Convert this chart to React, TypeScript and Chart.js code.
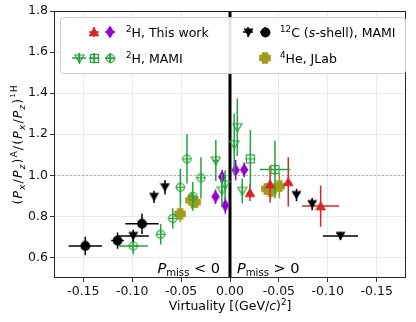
import React, { useEffect, useRef } from 'react';
import { Chart, registerables } from 'chart.js';
Chart.register(...registerables);

// ---- Data (virtuality: negative = Pmiss<0 side, positive = Pmiss>0 side) ----
const c12CircX = [-0.148, -0.115, -0.090];
const c12CircY = [0.656, 0.682, 0.764];
const c12CircXerr = [0.017, 0.0065, 0.017];
const c12CircYerr = [0.045, 0.04, 0.05];

const c12TriX = [-0.099, -0.0777, -0.0665, 0.068, 0.084, 0.113];
const c12TriY = [0.705, 0.895, 0.942, 0.904, 0.86, 0.705];
const c12TriXerr = [0.016, 0, 0, 0, 0, 0.018];
const c12TriYerr = [0.03, 0.03, 0.035, 0.03, 0.03, 0.02];

const greenCircX = [-0.099, -0.0709, -0.0586, -0.0508, -0.0440, -0.0380, -0.0297];
const greenCircY = [0.656, 0.713, 0.79, 0.942, 1.08, 0.898, 0.988];
const greenCircXerr = [0.015, 0, 0, 0, 0, 0, 0];
const greenCircYerr = [0.04, 0.05, 0.05, 0.09, 0.12, 0.07, 0.1];

const greenTriX = [-0.0145, -0.0083, -0.005, 0.0043, 0.0075, 0.0125];
const greenTriY = [1.072, 0.926, 0.955, 1.15, 1.234, 0.924];
const greenTriXerr = [0.003, 0, 0, 0, 0, 0];
const greenTriYerr = [0.1, 0.08, 0.07, 0.15, 0.14, 0.06];

const greenSqX = [0.0208, 0.046];
const greenSqY = [1.08, 1.028];
const greenSqXerr = [0, 0.0157];
const greenSqYerr = [0.14, 0.14];

const redX = [0.0204, 0.041, 0.0596, 0.0927];
const redY = [0.915, 0.957, 0.968, 0.85];
const redXerr = [0, 0, 0, 0.019];
const redYerr = [0.04, 0.09, 0.12, 0.1];

const purpleX = [-0.0148, -0.0080, -0.0048, 0.0058, 0.0145];
const purpleY = [0.896, 0.992, 0.853, 1.025, 1.027];
const purpleYerr = [0.035, 0.035, 0.04, 0.05, 0.035];

const oliveX = [-0.0510, -0.0395, -0.0355, 0.0375, 0.0416, 0.0505];
const oliveY = [0.812, 0.878, 0.870, 0.934, 0.923, 0.947];
const oliveXerr = [0.003, 0.003, 0.003, 0.003, 0.003, 0.003];
const oliveYerr = [0.04, 0.04, 0.03, 0.03, 0.04, 0.06];

const xTicks = [-0.15, -0.1, -0.05, 0, 0.05, 0.1, 0.15];
const yTicks = [0.6, 0.8, 1.0, 1.2, 1.4, 1.6, 1.8];

const RED = '#d62728';
const PURPLE = '#9400d3';
const GREEN = '#24a43a';
const BLACK = '#000000';
const OLIVE = '#a09d1e';
const FONT = '"DejaVu Sans", sans-serif';

type Seg = { t: string; it?: boolean; sup?: boolean; sub?: boolean; sup2?: boolean };

function segFont(s: Seg, size: number) {
  const sz = s.sup2 ? size * 0.55 : s.sup || s.sub ? size * 0.7 : size;
  return `${s.it ? 'italic ' : ''}${sz}px ${FONT}`;
}
function segOff(s: Seg, size: number) {
  if (s.sup2) return -size * 0.55;
  if (s.sup) return -size * 0.38;
  if (s.sub) return size * 0.22;
  return 0;
}
function richWidth(ctx: CanvasRenderingContext2D, segs: Seg[], size: number, gap: number) {
  let w = 0;
  for (const s of segs) {
    ctx.font = segFont(s, size);
    w += ctx.measureText(s.t).width + gap;
  }
  return w - gap;
}
function drawRich(ctx: CanvasRenderingContext2D, segs: Seg[], x: number, y: number, size: number, align: 'left' | 'center' | 'right', gap = 0, color = '#000') {
  const w = richWidth(ctx, segs, size, gap);
  let cx = align === 'left' ? x : align === 'center' ? x - w / 2 : x - w;
  ctx.save();
  ctx.fillStyle = color;
  ctx.textBaseline = 'alphabetic';
  ctx.textAlign = 'left';
  for (const s of segs) {
    ctx.font = segFont(s, size);
    ctx.fillText(s.t, cx, y + segOff(s, size));
    cx += ctx.measureText(s.t).width + gap;
  }
  ctx.restore();
}

function mk(w: number, h: number, draw: (c: CanvasRenderingContext2D, w: number, h: number) => void) {
  const c = document.createElement('canvas');
  c.width = w;
  c.height = h;
  const ctx = c.getContext('2d')!;
  draw(ctx, w, h);
  return c;
}

function makeMarkers() {
  const triUp = mk(12, 12, (c) => {
    c.fillStyle = RED;
    c.beginPath(); c.moveTo(6, 0.8); c.lineTo(11.4, 10.2); c.lineTo(0.6, 10.2); c.closePath(); c.fill();
  });
  const diamond = mk(10, 14, (c) => {
    c.fillStyle = PURPLE;
    c.beginPath(); c.moveTo(5, 0.5); c.lineTo(9.2, 7); c.lineTo(5, 13.5); c.lineTo(0.8, 7); c.closePath(); c.fill();
  });
  const blackCirc = mk(11, 11, (c) => {
    c.fillStyle = BLACK;
    c.beginPath(); c.arc(5.5, 5.5, 4.9, 0, Math.PI * 2); c.fill();
  });
  const blackTri = mk(11, 11, (c) => {
    c.fillStyle = BLACK;
    c.beginPath(); c.moveTo(0.5, 1.5); c.lineTo(10.5, 1.5); c.lineTo(5.5, 10); c.closePath(); c.fill();
  });
  const gCirc = mk(11, 11, (c) => {
    c.strokeStyle = GREEN; c.lineWidth = 1.2;
    c.beginPath(); c.arc(5.5, 5.5, 4, 0, Math.PI * 2); c.stroke();
    c.beginPath(); c.moveTo(5.5, 0.5); c.lineTo(5.5, 10.5); c.moveTo(0.5, 5.5); c.lineTo(10.5, 5.5); c.stroke();
  });
  const gSq = mk(11, 11, (c) => {
    c.strokeStyle = GREEN; c.lineWidth = 1.2;
    c.strokeRect(1.5, 1.5, 8, 8);
    c.beginPath(); c.moveTo(5.5, 0.5); c.lineTo(5.5, 10.5); c.moveTo(0.5, 5.5); c.lineTo(10.5, 5.5); c.stroke();
  });
  const gTri = mk(11, 11, (c) => {
    c.strokeStyle = GREEN; c.lineWidth = 1.2;
    c.beginPath(); c.moveTo(1, 2); c.lineTo(10, 2); c.lineTo(5.5, 9.8); c.closePath(); c.stroke();
    c.beginPath(); c.moveTo(5.5, 0); c.lineTo(5.5, 11); c.stroke();
  });
  const olivePlus = mk(12, 12, (c) => {
    c.fillStyle = OLIVE;
    c.beginPath();
    const a = 3.2, b = 5.8, o = 6;
    c.moveTo(o - a, o - b); c.lineTo(o + a, o - b); c.lineTo(o + a, o - a); c.lineTo(o + b, o - a);
    c.lineTo(o + b, o + a); c.lineTo(o + a, o + a); c.lineTo(o + a, o + b); c.lineTo(o - a, o + b);
    c.lineTo(o - a, o + a); c.lineTo(o - b, o + a); c.lineTo(o - b, o - a); c.lineTo(o - a, o - a);
    c.closePath(); c.fill();
  });
  return { triUp, diamond, blackCirc, blackTri, gCirc, gSq, gTri, olivePlus };
}

function pts(xs: number[], ys: number[], xe?: number[], ye?: number[]) {
  return xs.map((x, i) => ({ x, y: ys[i], xerr: xe ? xe[i] : 0, yerr: ye ? ye[i] : 0 }));
}

export default function App() {
  const ref = useRef<HTMLCanvasElement>(null);
  useEffect(() => {
    const m = makeMarkers();
    const ds = (data: any[], style: HTMLCanvasElement, color: string) => ({
      type: 'scatter' as const,
      data,
      pointStyle: style,
      pointRadius: 5,
      borderColor: color,
      backgroundColor: color,
      showLine: false,
      errColor: color,
    });

    const errPlugin = {
      id: 'errbars',
      beforeDatasetDraw(chart: any, args: any) {
        const d = chart.data.datasets[args.index];
        const xs = chart.scales.x, ys = chart.scales.y;
        const ctx = chart.ctx as CanvasRenderingContext2D;
        ctx.save();
        ctx.strokeStyle = d.errColor;
        ctx.lineWidth = 1.5;
        for (const p of d.data) {
          const px = xs.getPixelForValue(p.x), py = ys.getPixelForValue(p.y);
          ctx.beginPath();
          if (p.yerr) { ctx.moveTo(px, ys.getPixelForValue(p.y - p.yerr)); ctx.lineTo(px, ys.getPixelForValue(p.y + p.yerr)); }
          if (p.xerr) { ctx.moveTo(xs.getPixelForValue(p.x - p.xerr), py); ctx.lineTo(xs.getPixelForValue(p.x + p.xerr), py); }
          ctx.stroke();
        }
        ctx.restore();
      },
    };

    const decoPlugin = {
      id: 'deco',
      beforeDatasetsDraw(chart: any) {
        const ctx = chart.ctx as CanvasRenderingContext2D;
        const a = chart.chartArea;
        const xs = chart.scales.x, ys = chart.scales.y;
        ctx.save();
        ctx.strokeStyle = '#aaaaaa';
        ctx.lineWidth = 1;
        ctx.setLineDash([2, 2]);
        const y1 = Math.round(ys.getPixelForValue(1.0)) + 0.5;
        ctx.beginPath(); ctx.moveTo(a.left, y1); ctx.lineTo(a.right, y1); ctx.stroke();
        ctx.setLineDash([]);
        ctx.strokeStyle = '#000';
        ctx.lineWidth = 3;
        const x0 = xs.getPixelForValue(0);
        ctx.beginPath(); ctx.moveTo(x0, a.top); ctx.lineTo(x0, a.bottom); ctx.stroke();
        ctx.restore();
      },
      afterDatasetsDraw(chart: any) {
        const ctx = chart.ctx as CanvasRenderingContext2D;
        const a = chart.chartArea;
        ctx.save();
        ctx.strokeStyle = '#262626';
        ctx.lineWidth = 1;
        ctx.strokeRect(a.left + 0.5, a.top + 0.5, a.right - a.left - 1, a.bottom - a.top - 1);
        ctx.restore();
        // Pmiss labels
        drawRich(ctx, [{ t: 'P', it: true }, { t: 'miss', sub: true }, { t: ' < 0' }], 220, 273, 14.5, 'right');
        drawRich(ctx, [{ t: 'P', it: true }, { t: 'miss', sub: true }, { t: ' > 0' }], 237, 273, 14.5, 'left');
      },
      afterDraw(chart: any) {
        const ctx = chart.ctx as CanvasRenderingContext2D;
        // axis titles
        drawRich(ctx, [{ t: 'Virtuality [(GeV/' }, { t: 'c', it: true }, { t: ')' }, { t: '2', sup: true }, { t: ']' }], 230, 310, 12.5, 'center');
        ctx.save();
        ctx.translate(22, 145);
        ctx.rotate(-Math.PI / 2);
        drawRich(ctx, [
          { t: '(' }, { t: 'P', it: true }, { t: 'x', it: true, sub: true }, { t: '/' }, { t: 'P', it: true }, { t: 'z', it: true, sub: true }, { t: ')' },
          { t: 'A', sup: true }, { t: '/' }, { t: '(' }, { t: 'P', it: true }, { t: 'x', it: true, sub: true }, { t: '/' }, { t: 'P', it: true }, { t: 'z', it: true, sub: true }, { t: ')' },
          { t: '1', sup2: true }, { t: 'H', sup: true },
        ], 0, 0, 12.5, 'center', 1.2);
        ctx.restore();
        // legend
        ctx.save();
        ctx.fillStyle = 'rgba(255,255,255,0.9)';
        ctx.strokeStyle = '#cccccc';
        ctx.lineWidth = 1;
        const lx = 60.5, ly = 17.5, lw = 345, lh = 56, r = 3;
        ctx.beginPath();
        ctx.moveTo(lx + r, ly); ctx.lineTo(lx + lw - r, ly); ctx.arcTo(lx + lw, ly, lx + lw, ly + r, r);
        ctx.lineTo(lx + lw, ly + lh - r); ctx.arcTo(lx + lw, ly + lh, lx + lw - r, ly + lh, r);
        ctx.lineTo(lx + r, ly + lh); ctx.arcTo(lx, ly + lh, lx, ly + lh - r, r);
        ctx.lineTo(lx, ly + r); ctx.arcTo(lx, ly, lx + r, ly, r); ctx.closePath();
        ctx.fill(); ctx.stroke();
        const handle = (img: HTMLCanvasElement, color: string, x: number, y: number, hl = 5) => {
          ctx.strokeStyle = color; ctx.lineWidth = 1.5;
          ctx.beginPath(); ctx.moveTo(x - hl, y); ctx.lineTo(x + hl, y); ctx.moveTo(x, y - 5); ctx.lineTo(x, y + 5); ctx.stroke();
          ctx.drawImage(img, Math.round(x - img.width / 2), Math.round(y - img.height / 2));
        };
        const r1 = 32, r2 = 58;
        handle(m.triUp, RED, 94, r1);
        handle(m.diamond, PURPLE, 110, r1);
        handle(m.gTri, GREEN, 79, r2, 7);
        handle(m.gSq, GREEN, 94, r2);
        handle(m.gCirc, GREEN, 110, r2);
        handle(m.blackTri, BLACK, 248, r1);
        handle(m.blackCirc, BLACK, 265, r1);
        handle(m.olivePlus, OLIVE, 265, r2);
        ctx.restore();
        drawRich(ctx, [{ t: '2', sup: true }, { t: 'H, This work' }], 126, r1 + 4.5, 12.5, 'left');
        drawRich(ctx, [{ t: '2', sup: true }, { t: 'H, MAMI' }], 126, r2 + 4.5, 12.5, 'left');
        drawRich(ctx, [{ t: '12', sup: true }, { t: 'C (' }, { t: 's', it: true }, { t: '-shell), MAMI' }], 280, r1 + 4.5, 12.5, 'left');
        drawRich(ctx, [{ t: '4', sup: true }, { t: 'He, JLab' }], 280, r2 + 4.5, 12.5, 'left');
      },
    };

    const chart = new Chart(ref.current!, {
      type: 'scatter',
      data: {
        datasets: [
          ds(pts(c12CircX, c12CircY, c12CircXerr, c12CircYerr), m.blackCirc, BLACK),
          ds(pts(c12TriX, c12TriY, c12TriXerr, c12TriYerr), m.blackTri, BLACK),
          ds(pts(greenTriX, greenTriY, greenTriXerr, greenTriYerr), m.gTri, GREEN),
          ds(pts(greenSqX, greenSqY, greenSqXerr, greenSqYerr), m.gSq, GREEN),
          ds(pts(greenCircX, greenCircY, greenCircXerr, greenCircYerr), m.gCirc, GREEN),
          ds(pts(redX, redY, redXerr, redYerr), m.triUp, RED),
          ds(pts(purpleX, purpleY, undefined, purpleYerr), m.diamond, PURPLE),
          ds(pts(oliveX, oliveY, oliveXerr, oliveYerr), m.olivePlus, OLIVE),
        ] as any,
      },
      options: {
        animation: false,
        responsive: false,
        events: [],
        layout: { padding: { left: 0, right: 10, top: 11, bottom: 0 } },
        plugins: { legend: { display: false }, tooltip: { enabled: false } },
        scales: {
          x: {
            type: 'linear',
            min: -0.18,
            max: 0.18,
            afterBuildTicks: (s: any) => { s.ticks = xTicks.map((v) => ({ value: v })); },
            afterFit: (s: any) => { s.height = 44; },
            border: { display: false },
            grid: { color: '#ebebeb', tickColor: '#333', tickLength: 4, lineWidth: 1 },
            ticks: {
              padding: 2,
              color: '#111',
              font: { family: FONT, size: 12.5 },
              callback: (v: any) => (Math.abs(v) < 1e-9 ? '0.00' : (-Math.abs(v)).toFixed(2)),
            },
          },
          y: {
            type: 'linear',
            min: 0.5,
            max: 1.8,
            afterBuildTicks: (s: any) => { s.ticks = yTicks.map((v) => ({ value: v })); },
            afterFit: (s: any) => { s.width = 54; },
            border: { display: false },
            grid: { color: '#ebebeb', tickColor: '#333', tickLength: 4, lineWidth: 1 },
            ticks: {
              padding: 2,
              color: '#111',
              font: { family: FONT, size: 12.5 },
              callback: (v: any) => Number(v).toFixed(1),
            },
          },
        },
      },
      plugins: [errPlugin, decoPlugin],
    } as any);
    return () => chart.destroy();
  }, []);
  return (
    <div style={{ position: 'absolute', left: 0, top: 0, width: 416, height: 322, background: '#fff' }}>
      <canvas ref={ref} width={416} height={322} style={{ display: 'block' }} />
    </div>
  );
}
